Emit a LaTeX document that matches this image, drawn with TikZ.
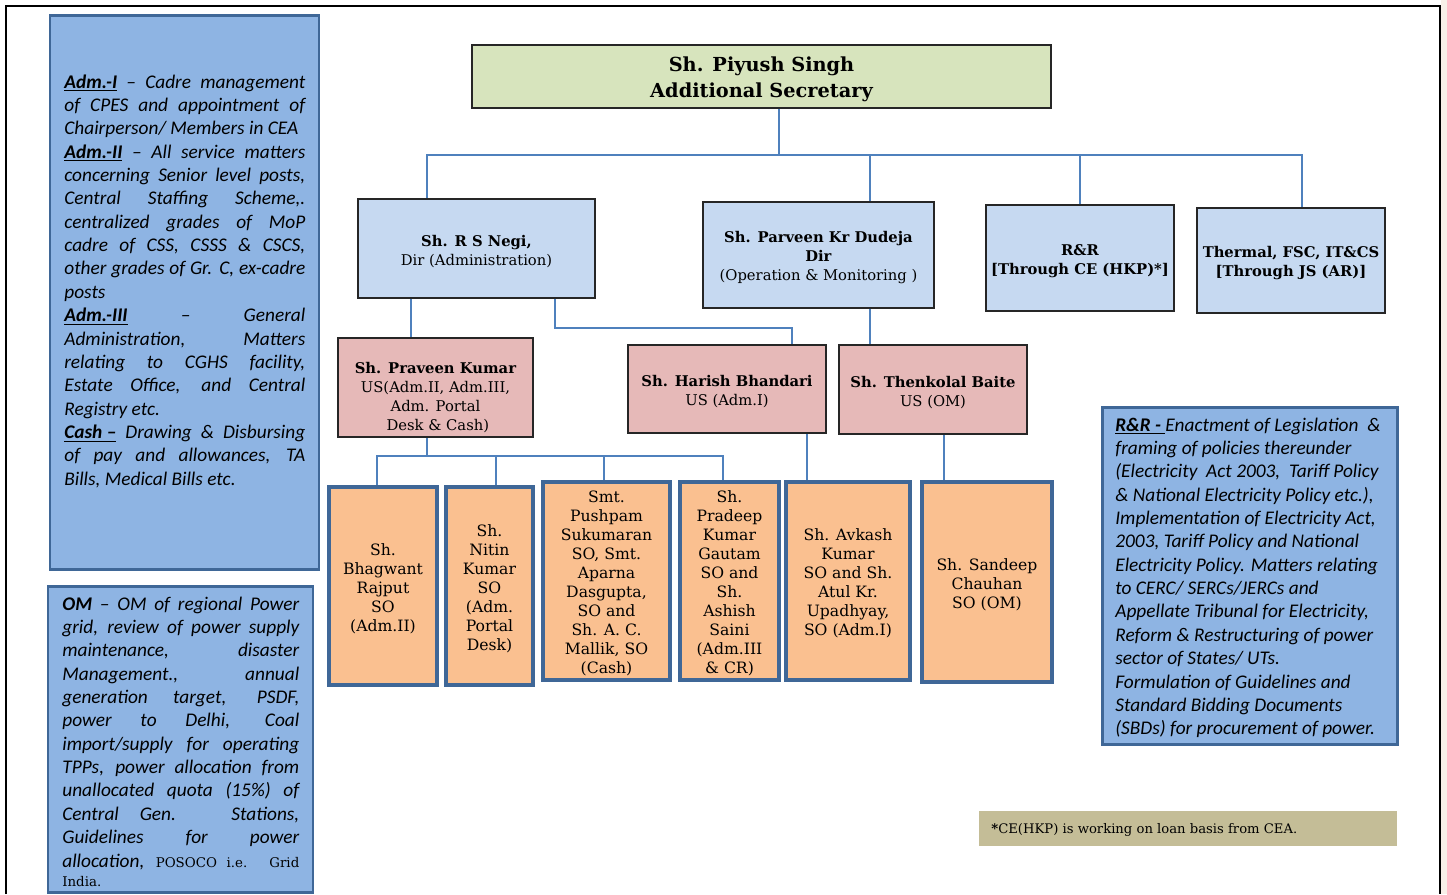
\documentclass[tikz,border=0pt]{standalone}
\usepackage{fontspec}
\newfontfamily\calfont{Carlito}
\newfontfamily\bkfont{DejaVu Serif}
% invisible strut on the first line of a box, lowers the text block a little
\newcommand\firstlift[1][9.7pt]{\rule{0pt}{#1}}

\definecolor{panelblue}{HTML}{8EB4E3}
\definecolor{paneledge}{HTML}{3F6797}
\definecolor{dirblue}{HTML}{C6D9F1}
\definecolor{uspink}{HTML}{E6B9B8}
\definecolor{soorange}{HTML}{FAC090}
\definecolor{asgreen}{HTML}{D7E4BD}
\definecolor{notetan}{HTML}{C4BD97}
\definecolor{linkblue}{HTML}{4F81BD}
\definecolor{pagetint}{HTML}{F7F0E8}

\tikzset{
  orgbox/.style={draw=black!85, line width=1.1pt, inner sep=0pt, align=center,
    font=\bkfont\fontsize{8.4}{10.8}\selectfont},
  asbox/.style={orgbox, fill=asgreen, font=\bkfont\bfseries\fontsize{11}{14.7}\selectfont},
  dirbox/.style={orgbox, fill=dirblue},
  usbox/.style={orgbox, fill=uspink},
  sobox/.style={orgbox, fill=soorange, draw=paneledge, line width=2.2pt,
    font=\bkfont\fontsize{8.9}{10.8}\selectfont},
  panel/.style={draw=paneledge, fill=panelblue, line width=1.7pt, inner sep=0pt},
  paneltext/.style={anchor=base west, inner sep=0pt,
    font=\calfont\itshape\fontsize{11}{13.3}\selectfont},
  link/.style={draw=linkblue, line width=0.7pt}
}

\begin{document}
\begin{tikzpicture}[x=0.02cm, y=-0.02cm]
\useasboundingbox (0,0) rectangle (1447,894);
\fill[pagetint] (1441,0) rectangle (1447,894);
\draw[line width=0.9pt] (6,894) -- (6,6) -- (1440,6) -- (1440,894);

% ---- description panels ----
\draw[panel] (50,15) rectangle (319,569);
\node[paneltext] (admtext) at (64,88) {\parbox[t]{4.82cm}{%
\hyphenpenalty=10000 \tolerance=10000
\underline{\textbf{Adm.-I}} – Cadre management\linebreak
of CPES and appointment of\linebreak
Chairperson/ Members in CEA\par
\underline{\textbf{Adm.-II}} – All service matters\linebreak
concerning Senior level posts,\linebreak
Central Staffing Scheme,.\linebreak
centralized grades of MoP\linebreak
cadre of CSS, CSSS \& CSCS,\linebreak
other grades of Gr. C, ex-cadre\linebreak
posts\par
\underline{\textbf{Adm.-III}} – General\linebreak
Administration, Matters\linebreak
relating to CGHS facility,\linebreak
Estate Office, and Central\linebreak
Registry etc.\par
\underline{\textbf{Cash –}} Drawing \& Disbursing\linebreak
of pay and allowances, TA\linebreak
Bills, Medical Bills etc.\par}};

\draw[panel] (48,586) rectangle (313,892);
\node[paneltext] (omtext) at (62,610) {\parbox[t]{4.74cm}{%
\hyphenpenalty=10000 \tolerance=10000 \parfillskip=0pt
\textbf{OM} – OM of regional Power\linebreak
grid, review of power supply\linebreak
maintenance, disaster\linebreak
Management., annual\linebreak
generation target, PSDF,\linebreak
power to Delhi, Coal\linebreak
import/supply for operating\linebreak
TPPs, power allocation from\linebreak
unallocated quota (15\%) of\linebreak
Central Gen. Stations,\linebreak
Guidelines for power\linebreak
allocation, {\upshape\bkfont\fontsize{7.6}{10}\selectfont POSOCO i.e. Grid}\par
\parfillskip=0pt plus 1fil
{\upshape\bkfont\fontsize{7.6}{11.3}\selectfont India.\par}}};

\draw[panel] (1102,407) rectangle (1397,744);
\node[paneltext] (rrtext) at (1115,431) {\parbox[t]{5.7cm}{\raggedright
\underline{\textbf{R\&R -}\ }Enactment of Legislation \ \&\\
framing of policies thereunder\\
(Electricity \ Act 2003, \ Tariff Policy\\
\& National Electricity Policy etc.),\\
Implementation of Electricity Act,\\
2003, Tariff Policy and National\\
Electricity Policy. Matters relating\\
to CERC/ SERCs/JERCs and\\
Appellate Tribunal for Electricity,\\
Reform \& Restructuring of power\\
sector of States/ UTs.\\
Formulation of Guidelines and\\
Standard Bidding Documents\\
(SBDs) for procurement of power.}};

% ---- hierarchy boxes ----
\node[asbox, minimum width=11.58cm, minimum height=1.26cm] (as) at (761.5,76.5)
  {\firstlift[11.6pt]Sh. Piyush Singh\\Additional Secretary};

\node[dirbox, minimum width=4.74cm, minimum height=1.98cm] (negi) at (476.5,248.5)
  {\firstlift\textbf{Sh. R S Negi,}\\Dir (Administration)};
\node[dirbox, minimum width=4.62cm, minimum height=2.12cm] (dudeja) at (818.5,255)
  {\firstlift\textbf{Sh. Parveen Kr Dudeja}\\\textbf{Dir}\\(Operation \& Monitoring )};
\node[dirbox, minimum width=3.76cm, minimum height=2.12cm] (rr) at (1080,258)
  {\firstlift\textbf{R\&R}\\\textbf{{[}Through CE (HKP)*{]}}};
\node[dirbox, minimum width=3.76cm, minimum height=2.10cm] (thermal) at (1291,260.5)
  {\firstlift\textbf{Thermal, FSC, IT\&CS}\\\textbf{{[}Through JS (AR){]}}};

\node[usbox, minimum width=3.90cm, minimum height=1.98cm] (praveen) at (435.5,387.5)
  {\firstlift[17.6pt]\textbf{Sh. Praveen Kumar}\\US(Adm.II, Adm.III,\\Adm. Portal\\\ Desk \& Cash)};
\node[usbox, minimum width=3.96cm, minimum height=1.76cm] (harish) at (727,389)
  {\firstlift\textbf{Sh. Harish Bhandari}\\US (Adm.I)};
\node[usbox, minimum width=3.76cm, minimum height=1.78cm] (thenkolal) at (933,389.5)
  {\firstlift\textbf{Sh. Thenkolal Baite}\\US (OM)};

\node[sobox, minimum width=2.16cm, minimum height=3.96cm] (bhagwant) at (383,586)
  {\firstlift Sh.\\Bhagwant\\Rajput\\SO\\(Adm.II)};
\node[sobox, minimum width=1.74cm, minimum height=3.96cm] (nitin) at (489.5,586)
  {\firstlift Sh.\\Nitin\\Kumar\\SO\\(Adm.\\Portal\\Desk)};
\node[sobox, minimum width=2.54cm, minimum height=3.96cm] (pushpam) at (606.5,581)
  {\firstlift Smt.\\Pushpam\\Sukumaran\\SO, Smt.\\Aparna\\Dasgupta,\\SO and\\Sh. A. C.\\Mallik, SO\\(Cash)};
\node[sobox, minimum width=1.98cm, minimum height=3.96cm] (pradeep) at (729.5,581)
  {\firstlift Sh.\\Pradeep\\Kumar\\Gautam\\SO and\\Sh.\\Ashish\\Saini\\(Adm.III\\\& CR)};
\node[sobox, minimum width=2.48cm, minimum height=3.96cm] (avkash) at (848,581)
  {\firstlift Sh. Avkash\\Kumar\\SO and Sh.\\Atul Kr.\\Upadhyay,\\SO (Adm.I)};
\node[sobox, minimum width=2.60cm, minimum height=4.00cm] (sandeep) at (987,582)
  {\firstlift Sh. Sandeep\\Chauhan\\SO (OM)};

% ---- footnote ----
\fill[notetan] (979,811) rectangle (1397,846);
\node[anchor=west, inner sep=0pt, font=\bkfont\fontsize{7.5}{10}\selectfont] (notetext) at (991,830)
  {\textbf{*}CE(HKP) is working on loan basis from CEA.};

% ---- connectors ----
\coordinate (topbus) at (779,155);
\coordinate (busL) at (427,155);
\coordinate (busR) at (1302,155);
\coordinate (omcol) at (870,155);
\coordinate (admcol) at (411,0);
\coordinate (adm1a) at (555,328);
\coordinate (adm1b) at (792,328);
\coordinate (sobus) at (427,456);
\coordinate (dropA) at (377,456);
\coordinate (dropB) at (496,456);
\coordinate (dropC) at (604,456);
\coordinate (dropD) at (723,456);
\coordinate (dropE) at (807,0);
\coordinate (dropF) at (944,0);

\draw[link] (as.south -| topbus) -- (topbus);
\draw[link] (negi.north -| busL) |- (busR) -- (thermal.north -| busR);
\draw[link] (omcol) -- (dudeja.north -| omcol);
\draw[link] (rr.north) -- (rr.north |- topbus);
\draw[link] (dudeja.south -| omcol) -- (thenkolal.north -| omcol);
\draw[link] (negi.south -| admcol) -- (praveen.north -| admcol);
\draw[link] (negi.south -| adm1a) -- (adm1a) -- (adm1b) -- (harish.north -| adm1b);
\draw[link] (praveen.south -| sobus) -- (sobus);
\draw[link] (bhagwant.north -| dropA) -- (dropA) -- (dropD) -- (pradeep.north -| dropD);
\draw[link] (dropB) -- (nitin.north -| dropB);
\draw[link] (dropC) -- (pushpam.north -| dropC);
\draw[link] (harish.south -| dropE) -- (avkash.north -| dropE);
\draw[link] (thenkolal.south -| dropF) -- (sandeep.north -| dropF);
\end{tikzpicture}
\end{document}
